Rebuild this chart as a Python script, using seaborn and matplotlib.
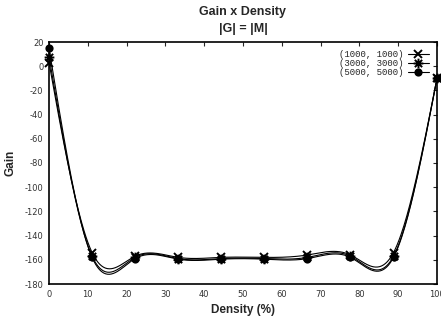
import numpy as np
import pandas as pd
import matplotlib
matplotlib.use("Agg")
import matplotlib.pyplot as plt
import seaborn as sns
from matplotlib.lines import Line2D
from matplotlib.path import Path

density = [0, 11.1, 22.2, 33.3, 44.4, 55.5, 66.6, 77.7, 88.8, 100]
gain_1000 = [3, -154, -157, -158, -158, -158, -156, -156, -154, -10]
gain_3000 = [8, -157, -158, -159, -159, -159, -158, -157, -157, -10]
gain_5000 = [15, -158, -159, -159.5, -159.5, -159.5, -159, -158, -158, -10]
labels = ["(1000, 1000)", "(3000, 3000)", "(5000, 5000)"]
series = [gain_1000, gain_3000, gain_5000]

star_path = Path(
    [(-1, 0), (1, 0), (0, -1), (0, 1), (-0.75, -0.75), (0.75, 0.75),
     (-0.75, 0.75), (0.75, -0.75)],
    [Path.MOVETO, Path.LINETO] * 4,
)
markers = ["x", star_path, "o"]
msizes = [6, 7, 4.5]


def natural_spline(x, y, n=400):
    x = np.asarray(x, float)
    y = np.asarray(y, float)
    k = len(x)
    h = np.diff(x)
    A = np.zeros((k, k))
    b = np.zeros(k)
    A[0, 0] = 1
    A[-1, -1] = 1
    for i in range(1, k - 1):
        A[i, i - 1] = h[i - 1]
        A[i, i] = 2 * (h[i - 1] + h[i])
        A[i, i + 1] = h[i]
        b[i] = 3 * ((y[i + 1] - y[i]) / h[i] - (y[i] - y[i - 1]) / h[i - 1])
    c = np.linalg.solve(A, b)
    xs = np.linspace(x[0], x[-1], n)
    ys = np.empty_like(xs)
    for j, xv in enumerate(xs):
        i = min(np.searchsorted(x, xv, side="right") - 1, k - 2)
        d = (c[i + 1] - c[i]) / (3 * h[i])
        bb = (y[i + 1] - y[i]) / h[i] - h[i] * (2 * c[i] + c[i + 1]) / 3
        t = xv - x[i]
        ys[j] = y[i] + bb * t + c[i] * t ** 2 + d * t ** 3
    return xs, ys


sns.set_style("white")
plt.rcParams["axes.unicode_minus"] = False
plt.rcParams["font.family"] = ["Liberation Sans", "DejaVu Sans"]

fig = plt.figure(figsize=(4.41, 3.20), dpi=100)
ax = fig.add_axes([49 / 441, 1 - 284 / 320, (437 - 49) / 441, (284 - 42) / 320])

handles = []
for lab, vals, mk, ms in zip(labels, series, markers, msizes):
    xs, ys = natural_spline(density, vals)
    df_line = pd.DataFrame({"x": xs, "y": ys})
    sns.lineplot(data=df_line, x="x", y="y", ax=ax, color="black", lw=0.8,
                 estimator=None, sort=False)
    df_pts = pd.DataFrame({"x": density, "y": vals})
    ax.plot(df_pts["x"], df_pts["y"], linestyle="none", marker=mk,
            markersize=ms, color="black", mew=1.4, clip_on=False)
    handles.append(Line2D([0], [0], color="black", lw=0.8, marker=mk,
                          markersize=ms, mew=1.4))

ax.set_xlim(0, 100)
ax.set_ylim(-180, 20)
ax.set_xticks(range(0, 101, 10))
ax.set_yticks(range(-180, 21, 20))
ax.tick_params(direction="in", length=3, width=0.8, top=True, right=True,
               labelsize=6, labelcolor="#333333", pad=4)
for t in ax.get_xticklabels() + ax.get_yticklabels():
    t.set_family(["DejaVu Sans"])
for s in ax.spines.values():
    s.set_linewidth(1.2)
    s.set_color("black")

ax.set_xlabel("Density (%)", fontsize=8.5, fontweight="bold", labelpad=4)
ax.set_ylabel("Gain", fontsize=8.5, fontweight="bold", labelpad=6)
fig.text(243 / 441, 1 - 12 / 320, "Gain x Density", ha="center", va="center",
         fontsize=9, fontweight="bold")
fig.text(243 / 441, 1 - 29 / 320, "|G| = |M|", ha="center", va="center",
         fontsize=9, fontweight="bold")

leg = ax.legend(handles, labels, loc="upper right", markerfirst=False,
                frameon=False, prop={"family": "Liberation Mono", "size": 6.5},
                handlelength=2.4, handletextpad=0.5, labelspacing=0.0,
                borderaxespad=0.45)

fig.savefig("out.png", dpi=100)
